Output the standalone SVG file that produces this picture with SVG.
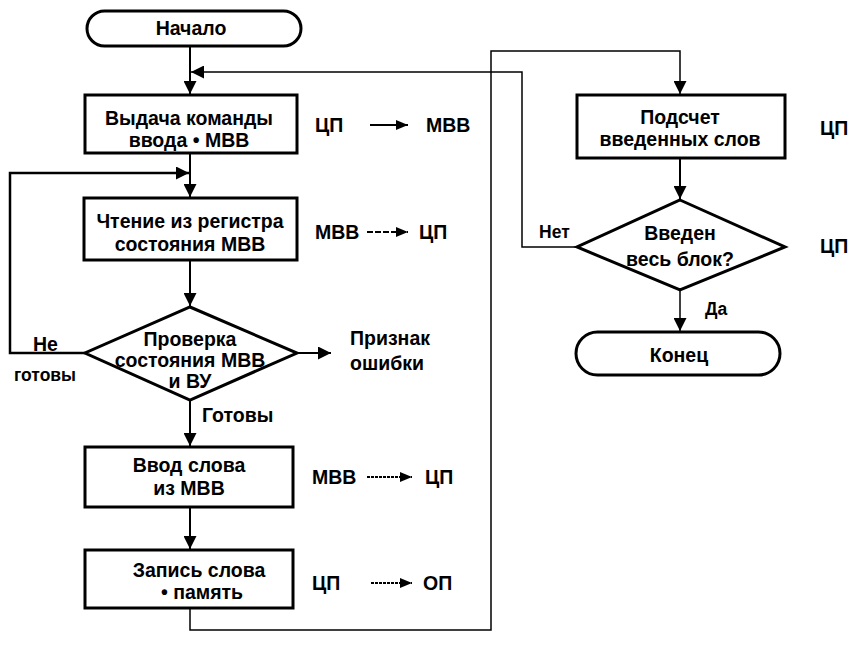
<svg xmlns="http://www.w3.org/2000/svg" width="857" height="660" viewBox="0 0 857 660">
<defs>
<style>
.shape{fill:#fff;stroke:#000;stroke-width:3}
.ln{fill:none;stroke:#000;stroke-width:2}
.thk{fill:none;stroke:#000;stroke-width:2.5}
.thin{fill:none;stroke:#000;stroke-width:1.5}
text{font-family:"Liberation Sans",Arial,sans-serif;font-weight:bold;font-size:19.5px;fill:#000}
.c{text-anchor:middle}
.s{font-size:17.5px}
</style>
<marker id="ah" markerUnits="userSpaceOnUse" markerWidth="13" markerHeight="13" refX="13" refY="6.5" orient="auto">
<path d="M0,0 L13,6.5 L0,13 z" fill="#000"/>
</marker>
<marker id="sa" markerUnits="userSpaceOnUse" markerWidth="12" markerHeight="10" refX="12" refY="5" orient="auto">
<path d="M0,0 L12,5 L0,10 z" fill="#000"/>
</marker>
</defs>
<rect width="857" height="660" fill="#fff"/>
<g id="connectors">
<path class="ln" d="M190,46 V94" marker-end="url(#ah)"/>
<path class="thin" d="M577,247 H522 V72 H191" marker-end="url(#ah)"/>
<path class="ln" d="M190,153 V197" marker-end="url(#ah)"/>
<path class="thk" d="M85,353 H10 V173 H189" marker-end="url(#ah)"/>
<path class="ln" d="M190,260 V306" marker-end="url(#ah)"/>
<path class="ln" d="M297,353 H331" marker-end="url(#ah)"/>
<path class="ln" d="M190,400 V446" marker-end="url(#ah)"/>
<path class="ln" d="M190,507 V549" marker-end="url(#ah)"/>
<path class="thin" d="M190,608 V630 H491 V51 H680 V94" marker-end="url(#ah)"/>
<path class="ln" d="M680,158 V199" marker-end="url(#ah)"/>
<path class="thin" d="M680,290 V331" marker-end="url(#ah)"/>
<path class="ln" d="M370,125 H408" marker-end="url(#sa)"/>
<path class="ln" d="M367,232 H408" marker-end="url(#sa)" stroke-dasharray="6,2"/>
<path class="ln" d="M367,477 H412" marker-end="url(#sa)" stroke-dasharray="3,1"/>
<path class="ln" d="M371,583 H412" marker-end="url(#sa)" stroke-dasharray="3,1"/>
</g>
<g id="start">
<rect class="shape" x="87" y="11" width="214" height="35" rx="17.5"/>
<text class="c" x="191" y="35">Начало</text>
</g>
<g id="box1">
<rect class="shape" x="85" y="95" width="212" height="58"/>
<text class="c" x="189" y="125">Выдача команды</text>
<text class="c" x="189" y="147">ввода • МВВ</text>
</g>
<g id="box2">
<rect class="shape" x="84" y="198" width="213" height="62"/>
<text class="c" x="190" y="228">Чтение из регистра</text>
<text class="c" x="190" y="251">состояния МВВ</text>
</g>
<g id="check">
<polygon class="shape" points="190,307 297,353 190,400 85,353"/>
<text class="c" x="190" y="346">Проверка</text>
<text class="c" x="190" y="367">состояния МВВ</text>
<text class="c" x="190" y="388">и ВУ</text>
</g>
<g id="box3">
<rect class="shape" x="85" y="447" width="208" height="60"/>
<text class="c" x="189" y="472">Ввод слова</text>
<text class="c" x="189" y="495">из МВВ</text>
</g>
<g id="box4">
<rect class="shape" x="85" y="550" width="208" height="58"/>
<text class="c" x="199" y="577">Запись слова</text>
<text class="c" x="202" y="599">• память</text>
</g>
<g id="box5">
<rect class="shape" x="577" y="95" width="208" height="63"/>
<text class="c" x="680" y="124">Подсчет</text>
<text class="c" x="680" y="146">введенных слов</text>
</g>
<g id="check2">
<polygon class="shape" points="680,200 785,247 680,290 577,247"/>
<text class="c" x="680" y="240">Введен</text>
<text class="c" x="680" y="266">весь блок?</text>
</g>
<g id="end">
<rect class="shape" x="576" y="332" width="204" height="43" rx="21.5"/>
<text class="c" x="679" y="362">Конец</text>
</g>
<g id="labels">
<text x="315" y="132">ЦП</text>
<text x="426" y="132">МВВ</text>
<text x="315" y="239">МВВ</text>
<text x="419" y="239">ЦП</text>
<text x="312" y="484">МВВ</text>
<text x="425" y="484">ЦП</text>
<text x="312" y="590">ЦП</text>
<text x="423" y="590">ОП</text>
<text x="820" y="135">ЦП</text>
<text x="820" y="253">ЦП</text>
<text x="350" y="345">Признак</text>
<text x="350" y="370">ошибки</text>
<text x="33" y="351">Не</text>
<text class="s" x="14" y="381">готовы</text>
<text x="202" y="422">Готовы</text>
<text class="s" x="539" y="238">Нет</text>
<text class="s" x="705" y="315">Да</text>
</g>
</svg>
